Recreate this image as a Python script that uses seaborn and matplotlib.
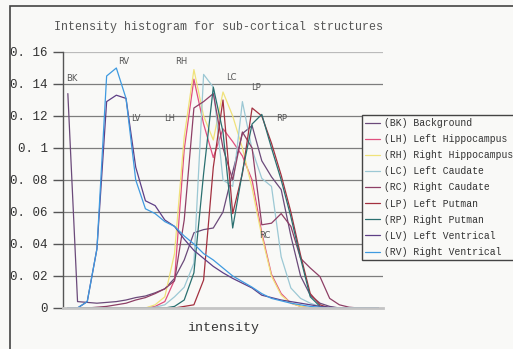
import matplotlib
matplotlib.use("Agg")
import matplotlib.pyplot as plt
from matplotlib.patches import Rectangle
import seaborn as sns
import numpy as np
import pandas as pd

# structure codes / names, in legend order
codes = ["BK", "LH", "RH", "LC", "RC", "LP", "RP", "LV", "RV"]
names = ["Background", "Left Hippocampus", "Right Hippocampus", "Left Caudate",
         "Right Caudate", "Left Putman", "Right Putman", "Left Ventrical",
         "Right Ventrical"]
colors = ["#6b4a7a", "#e0507e", "#f0e27a", "#9cc8d4", "#8e3f66",
          "#a3303f", "#2a7070", "#5e3f86", "#3f9ae0"]

# normalised histogram values, 33 intensity bins
BK = [0.134, 0.004, 0.0035, 0.003, 0.0035, 0.004, 0.005, 0.0065, 0.0075, 0.0095, 0.012,
      0.0185, 0.030, 0.047, 0.049, 0.050, 0.060, 0.085, 0.109, 0.114, 0.092, 0.082,
      0.074, 0.045, 0.020, 0.008, 0.003, 0.001, 0, 0, 0, 0, 0]
LH = [0, 0, 0, 0, 0, 0, 0, 0, 0, 0.001, 0.004, 0.0175, 0.099, 0.143, 0.115, 0.094,
      0.112, 0.104, 0.095, 0.080, 0.047, 0.021, 0.009, 0.003, 0.001, 0, 0, 0, 0, 0, 0, 0, 0]
RH = [0, 0, 0, 0, 0, 0, 0, 0, 0, 0.002, 0.007, 0.034, 0.107, 0.149, 0.120, 0.105,
      0.135, 0.120, 0.100, 0.075, 0.045, 0.020, 0.008, 0.003, 0.001, 0, 0, 0, 0, 0, 0, 0, 0]
LC = [0, 0, 0, 0, 0, 0, 0, 0, 0, 0.0005, 0.002, 0.007, 0.013, 0.028, 0.146, 0.138,
      0.080, 0.076, 0.129, 0.099, 0.081, 0.076, 0.032, 0.0125, 0.006, 0.003, 0.001,
      0, 0, 0, 0, 0, 0]
RC = [0, 0, 0, 0.0005, 0.001, 0.002, 0.003, 0.005, 0.0065, 0.009, 0.012, 0.017, 0.055,
      0.125, 0.129, 0.134, 0.100, 0.080, 0.110, 0.100, 0.052, 0.053, 0.059, 0.051,
      0.031, 0.025, 0.0196, 0.006, 0.002, 0.0005, 0, 0, 0]
LP = [0, 0, 0, 0, 0, 0, 0, 0, 0, 0, 0, 0, 0.001, 0.002, 0.0175, 0.088, 0.130, 0.059,
      0.084, 0.125, 0.120, 0.103, 0.083, 0.060, 0.033, 0.009, 0.002, 0, 0, 0, 0, 0, 0]
RP = [0, 0, 0, 0, 0, 0, 0, 0, 0, 0, 0, 0.001, 0.005, 0.022, 0.084, 0.138, 0.110, 0.050,
      0.085, 0.115, 0.121, 0.100, 0.080, 0.057, 0.031, 0.007, 0.001, 0, 0, 0, 0, 0, 0]
LV = [0, 0, 0.004, 0.037, 0.129, 0.133, 0.131, 0.088, 0.067, 0.064, 0.055, 0.051, 0.043,
      0.036, 0.031, 0.026, 0.022, 0.0185, 0.0155, 0.0125, 0.008, 0.0065, 0.005, 0.004,
      0.003, 0.002, 0.001, 0.0005, 0, 0, 0, 0, 0]
RV = [0, 0, 0.004, 0.037, 0.145, 0.150, 0.131, 0.080, 0.062, 0.059, 0.054, 0.051, 0.045,
      0.040, 0.034, 0.030, 0.025, 0.020, 0.0165, 0.013, 0.009, 0.006, 0.0045, 0.003,
      0.002, 0.001, 0.0005, 0, 0, 0, 0, 0, 0]
series = [BK, LH, RH, LC, RC, LP, RP, LV, RV]

# where the short code labels sit (bin, value)
label_pos = {"BK": (0.45, 0.1435), "RV": (5.8, 0.154), "LV": (7.0, 0.1185),
             "LH": (10.5, 0.1185), "RH": (11.7, 0.154), "LC": (16.9, 0.144),
             "LP": (19.4, 0.1375), "RP": (22.0, 0.1185), "RC": (20.3, 0.0455)}

rows = []
for code, name, vals in zip(codes, names, series):
    for i, v in enumerate(vals):
        rows.append({"bin": i, "value": v, "label": f"({code}) {name}"})
df = pd.DataFrame(rows)
labels = [f"({c}) {n}" for c, n in zip(codes, names)]
palette = dict(zip(labels, colors))

sns.set_style("white")
mono = ["Liberation Mono", "DejaVu Sans Mono"]
plt.rcParams["font.family"] = mono

bg = "#f9f9f7"
fig = plt.figure(figsize=(5.13, 3.49), dpi=100, facecolor=bg)
ax = fig.add_axes([63 / 513, 41 / 349, 320 / 513, 256 / 349])
ax.set_facecolor(bg)

yt = np.arange(0, 0.161, 0.02)
for y in yt[1:]:
    ax.axhline(y, color="#bbbbbb" if y > 0.15 else "#7d7d7d", lw=0.9, zorder=0)

sns.lineplot(data=df, x="bin", y="value", hue="label", hue_order=labels,
             palette=palette, linewidth=0.9, estimator=None, sort=False, ax=ax)

for code, (bx, by) in label_pos.items():
    ax.text(bx, by, code, fontsize=6, color="#555555", ha="center", va="center",
            family="DejaVu Sans")

ax.set_xlim(-0.5, 32.5)
ax.set_ylim(0, 0.16)
ax.set_xticks([])
ax.set_yticks(yt)
ax.set_yticklabels(["0", "0. 02", "0. 04", "0. 06", "0. 08", "0. 1", "0. 12", "0. 14", "0. 16"],
                   fontsize=9, color="#333333")
ax.tick_params(axis="y", direction="out", length=7, width=1, color="#555555", pad=4, left=True)
ax.set_ylabel("")
ax.set_xlabel("intensity", fontsize=9.5, color="#333333", labelpad=10)
for s in ["top", "right"]:
    ax.spines[s].set_visible(False)
ax.spines["left"].set_color("#555555")
ax.spines["left"].set_linewidth(1)
ax.spines["bottom"].set_color("#c4c4c4")
ax.spines["bottom"].set_linewidth(2)

fig.text(218 / 513, 1 - 27 / 349, "Intensity histogram for sub-cortical structures",
         ha="center", va="center", fontsize=8.4, color="#555555")

leg = ax.legend(loc="upper left", bbox_to_anchor=(362 / 513, 1 - 115 / 349),
                bbox_transform=fig.transFigure, fontsize=7, frameon=True, fancybox=False,
                edgecolor="#444444", facecolor=bg, framealpha=1, handlelength=1.5,
                handletextpad=0.5, labelspacing=0.63, borderpad=0.3, borderaxespad=0)
leg.get_frame().set_linewidth(1)
for t in leg.get_texts():
    t.set_color("#333333")

# outer chart frame (left and top edges visible)
fig.patches.append(Rectangle((10 / 513, -0.1), 1.2, (1 - 6 / 349) + 0.1, transform=fig.transFigure,
                             fill=False, edgecolor="#444444", lw=1.2))

fig.savefig("out.png", dpi=100, facecolor=bg)
